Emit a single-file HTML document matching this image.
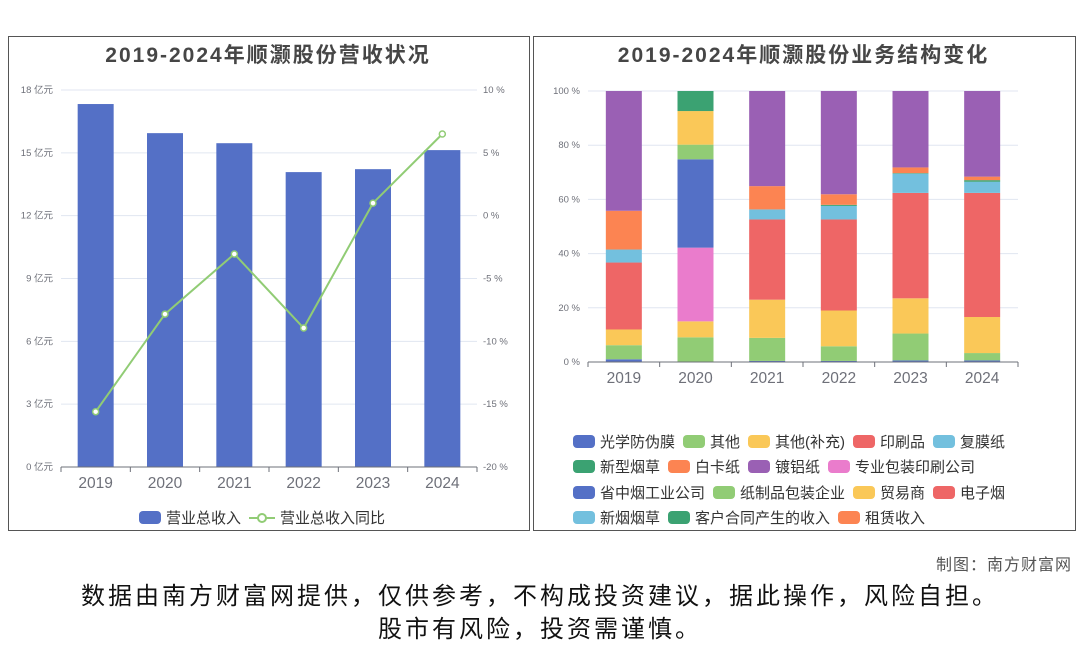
<!DOCTYPE html>
<html><head><meta charset="utf-8">
<style>
body{margin:0;width:1080px;height:646px;background:#fff;font-family:"Liberation Sans","Noto Sans CJK SC",sans-serif;position:relative;overflow:hidden}
.panel{position:absolute;border:1px solid #555;background:#fff}
.t{position:absolute;font-weight:bold;font-size:21px;letter-spacing:2px;color:#464646;width:100%;text-align:center}
.lg{position:absolute;display:flex;font-size:15px;color:#333;white-space:nowrap;align-items:center}
.li{display:flex;align-items:center;margin-right:8px}
.sw{width:22px;height:13px;border-radius:4px;margin-right:5px}
</style></head><body>
<div class="panel" style="left:8px;top:36px;width:520px;height:493px"></div>
<div class="panel" style="left:533px;top:36px;width:541px;height:493px"></div>
<svg id="s" width="1080" height="646" style="position:absolute;left:0;top:0"></svg>
<div class="t" style="left:8px;width:520px;top:39px">2019-2024年顺灏股份营收状况</div>
<div class="t" style="left:533px;width:541px;top:39px">2019-2024年顺灏股份业务结构变化</div>
<div class="lg" style="left:139px;top:507px">
 <div class="li"><div class="sw" style="background:#5470c6"></div>营业总收入</div>
 <div class="li"><svg width="26" height="14" style="margin-right:5px"><line x1="0" y1="7" x2="26" y2="7" stroke="#91cc75" stroke-width="2"/><circle cx="13" cy="7" r="4" fill="#fff" stroke="#91cc75" stroke-width="2"/></svg>营业总收入同比</div>
</div>
<div id="rl"></div>
<div style="position:absolute;right:8px;top:551px;font-size:16px;letter-spacing:1px;color:#555">制图：南方财富网</div>
<div style="position:absolute;left:0;width:1080px;top:580px;text-align:center;font-size:24px;letter-spacing:3px;line-height:33px;color:#111">数据由南方财富网提供，仅供参考，不构成投资建议，据此操作，风险自担。<br>股市有风险，投资需谨慎。</div>
<script>
const years=['2019','2020','2021','2022','2023','2024'];
const revenue=[17.33,15.94,15.46,14.08,14.22,15.13];
const yoy=[-15.6,-7.83,-3.05,-8.94,1.0,6.5];
const leftTicks=['0 亿元','3 亿元','6 亿元','9 亿元','12 亿元','15 亿元','18 亿元'];
const rightTicks=['-20 %','-15 %','-10 %','-5 %','0 %','5 %','10 %'];
const seriesNames=['光学防伪膜','其他','其他(补充)','印刷品','复膜纸','新型烟草','白卡纸','镀铝纸','专业包装印刷公司','省中烟工业公司','纸制品包装企业','贸易商','电子烟','新烟烟草','客户合同产生的收入','租赁收入'];
const seriesColors=['#5470c6','#91cc75','#fac858','#ee6666','#73c0de','#3ba272','#fc8452','#9a60b4','#ea7ccc','#5470c6','#91cc75','#fac858','#ee6666','#73c0de','#3ba272','#fc8452'];
const s光学防伪膜=[1,0,0.4,0.4,0.6,0.6];
const s其他=[5.2,9.1,8.5,5.4,9.9,2.7];
const s其他补充=[5.8,5.9,14.1,13.2,13,13.3];
const s印刷品=[24.7,0,29.6,33.6,38.9,45.8];
const s复膜纸=[4.8,0,3.7,5,7.1,4.1];
const s新型烟草=[0,0,0,0.4,0.2,0.6];
const s白卡纸=[14.3,0,8.6,3.9,2.1,1.3];
const s镀铝纸=[44.2,0,35.1,38.1,28.2,31.6];
const s专业包装=[0,27.2,0,0,0,0];
const s省中烟=[0,32.6,0,0,0,0];
const s纸制品=[0,5.4,0,0,0,0];
const s贸易商=[0,12.4,0,0,0,0];
const s电子烟=[0,0,0,0,0,0];
const s新烟烟草=[0,0,0,0,0,0];
const s客户合同=[0,7.4,0,0,0,0];
const s租赁=[0,0,0,0,0,0];
const pctTicks=['0 %','20 %','40 %','60 %','80 %','100 %'];
const stack=[s光学防伪膜,s其他,s其他补充,s印刷品,s复膜纸,s新型烟草,s白卡纸,s镀铝纸,s专业包装,s省中烟,s纸制品,s贸易商,s电子烟,s新烟烟草,s客户合同,s租赁];

const S=document.getElementById('s');const NS='http://www.w3.org/2000/svg';
function el(t,a,p){const e=document.createElementNS(NS,t);for(const k in a)e.setAttribute(k,a[k]);(p||S).appendChild(e);return e;}
function txt(x,y,s,anchor,size,fill){const e=el('text',{x:x,y:y,'text-anchor':anchor,'font-size':size,fill:fill||'#6e7079','font-family':'Liberation Sans,Noto Sans CJK SC,sans-serif'});e.textContent=s;return e;}
const L={x0:61,x1:477,y0:467,y1:90};
const yL=v=>L.y0-(v/18)*(L.y0-L.y1);
const yR=v=>L.y0-((v+20)/30)*(L.y0-L.y1);
const bwL=(L.x1-L.x0)/years.length;
const xL=i=>L.x0+bwL*(i+0.5);
leftTicks.forEach((t,i)=>{const y=L.y0-i*(L.y0-L.y1)/6;
 if(i>0){const g=el('line',{x1:L.x0,x2:L.x1,y1:y,y2:y,stroke:'#e0e6f1'});}
 const a=txt(53,y+3,t,'end',9.5);
 const b=txt(483,y+3,rightTicks[i],'start',9.5);});
revenue.forEach((v,i)=>{const r=el('rect',{x:xL(i)-18,y:yL(v),width:36,height:L.y0-yL(v),fill:'#5470c6'});
 });
const ax=el('line',{x1:L.x0,x2:L.x1,y1:L.y0,y2:L.y0,stroke:'#6e7079'});
years.forEach((y,i)=>{el('line',{x1:L.x0+bwL*i,x2:L.x0+bwL*i,y1:L.y0,y2:L.y0+5,stroke:'#6e7079'});
 const t=txt(xL(i),488,y,'middle',15.5);});
el('line',{x1:L.x1,x2:L.x1,y1:L.y0,y2:L.y0+5,stroke:'#6e7079'});
const pl=el('polyline',{points:yoy.map((v,i)=>xL(i)+','+yR(v)).join(' '),fill:'none',stroke:'#91cc75','stroke-width':2});

yoy.forEach((v,i)=>{const c=el('circle',{cx:xL(i),cy:yR(v),r:3,fill:'#fff',stroke:'#91cc75','stroke-width':1.5});
 });
const R={x0:588,x1:1018,y0:362,y1:91};
const yP=v=>R.y0-(v/100)*(R.y0-R.y1);
const bwR=(R.x1-R.x0)/years.length;
const xR=i=>R.x0+bwR*(i+0.5);
pctTicks.forEach((t,i)=>{const y=R.y0-i*(R.y0-R.y1)/5;
 if(i>0){const g=el('line',{x1:R.x0,x2:R.x1,y1:y,y2:y,stroke:'#e0e6f1'});}
 const a=txt(580,y+3,t,'end',9.5);});
years.forEach((yr,i)=>{let acc=0;stack.forEach((arr,k)=>{const v=arr[i];if(v>0){
 const r=el('rect',{x:xR(i)-18,y:yP(acc+v),width:36,height:yP(acc)-yP(acc+v),fill:seriesColors[k]});
 acc+=v;}});});
const ax2=el('line',{x1:R.x0,x2:R.x1,y1:R.y0,y2:R.y0,stroke:'#6e7079'});
years.forEach((y,i)=>{el('line',{x1:R.x0+bwR*i,x2:R.x0+bwR*i,y1:R.y0,y2:R.y0+5,stroke:'#6e7079'});
 const t=txt(xR(i),383,y,'middle',15.5);});
el('line',{x1:R.x1,x2:R.x1,y1:R.y0,y2:R.y0+5,stroke:'#6e7079'});
const rows=[[0,1,2,3,4],[5,6,7,8],[9,10,11,12],[13,14,15]];
const rl=document.getElementById('rl');
rows.forEach((row,ri)=>{const d=document.createElement('div');d.className='lg';d.style.left='573px';d.style.top=(431+ri*25.3)+'px';
 
 
 row.forEach(k=>{const it=document.createElement('div');it.className='li';
  
  
  it.innerHTML='<div class="sw" style="background:'+seriesColors[k]+'"></div>'+seriesNames[k];d.appendChild(it);});
 rl.appendChild(d);});
</script>
</body></html>
